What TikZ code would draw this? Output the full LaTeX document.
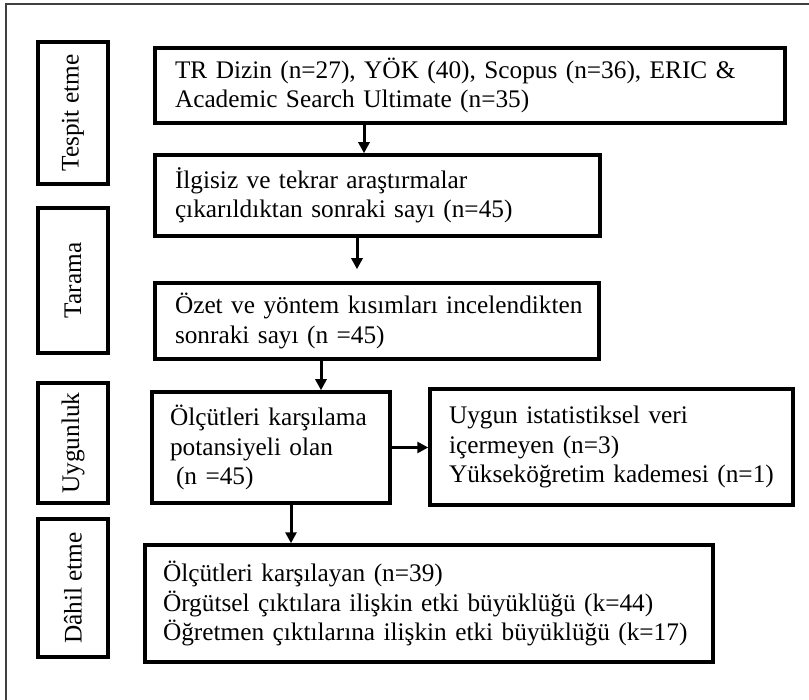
\documentclass[tikz,border=0pt]{standalone}
\usepackage{fontspec}
\setmainfont{Liberation Serif}
\usetikzlibrary{arrows.meta}
\begin{document}
\begin{tikzpicture}[x=1pt,y=-1pt,
  box/.style={draw,line width=3.5pt,rectangle,inner ysep=0pt,align=left,
    font=\fontsize{25.3}{29.5}\selectfont},
  lab/.style={draw,line width=3.5pt,rectangle,rotate=90,inner sep=0pt,
    font=\fontsize{25.3}{29.5}\selectfont},
  arr/.style={line width=3pt,-{Triangle[length=11pt,width=11pt]}},
  frame/.style={draw=black!75,line width=1.2pt}]
\useasboundingbox (0,0) rectangle (809,700);
\draw[frame] (6,700) -- (6,4) -- (809,4);
% stage labels
\node[lab,minimum width=142,minimum height=70] (l1) at (73,113) {Tespit etme};
\node[lab,minimum width=145,minimum height=70] (l2) at (73,280.5) {Tarama};
\node[lab,minimum width=120,minimum height=70] (l3) at (73,443) {Uygunluk};
\node[lab,minimum width=138,minimum height=70] (l4) at (73,588) {Dâhil etme};
% main boxes
\node[box,inner xsep=20,text width=590,minimum height=75] (b1) at (470,85.5)
  {\makebox[590pt][s]{TR Dizin (n=27), YÖK (40), Scopus (n=36), ERIC \&}\\\mbox{Academic Search Ultimate (n=35)}};
\node[box,inner xsep=20,text width=405,minimum height=81] (b2) at (377.5,195.5)
  {\mbox{İlgisiz ve tekrar araştırmalar}\\\mbox{çıkarıldıktan sonraki sayı (n=45)}};
\node[box,inner xsep=20,text width=404,minimum height=76] (b3) at (377,321)
  {\mbox{Özet ve yöntem kısımları incelendikten}\\\mbox{sonraki sayı (n =45)}};
\node[box,inner xsep=18,text width=202,minimum height=111] (b4) at (271,447.5)
  {\mbox{Ölçütleri karşılama}\\\mbox{potansiyeli olan}\\\mbox{\hspace*{6pt}(n =45)}};
\node[box,inner xsep=19,text width=325,minimum height=116] (b5) at (611.5,447)
  {\mbox{Uygun istatistiksel veri}\\\mbox{içermeyen (n=3)}\\\mbox{Yükseköğretim kademesi (n=1)}};
\node[box,inner xsep=18,text width=532,minimum height=117] (b6) at (429,603.5)
  {\mbox{Ölçütleri karşılayan (n=39)}\\\mbox{Örgütsel çıktılara ilişkin etki büyüklüğü (k=44)}\\\mbox{Öğretmen çıktılarına ilişkin etki büyüklüğü (k=17)}};
% arrow x positions
\coordinate (c1) at (364,0);
\coordinate (c2) at (357,0);
\coordinate (c3) at (321,0);
\coordinate (c4) at (291,0);
\draw[arr] (c1 |- b1.south) -- (c1 |- b2.north);
\draw[arr,shorten >=12pt] (c2 |- b2.south) -- (c2 |- b3.north);
\draw[arr] (c3 |- b3.south) -- (c3 |- b4.north);
\draw[arr] (c4 |- b4.south) -- (c4 |- b6.north);
\draw[arr] (b4.east) -- (b4.east -| b5.west);
\end{tikzpicture}
\end{document}
